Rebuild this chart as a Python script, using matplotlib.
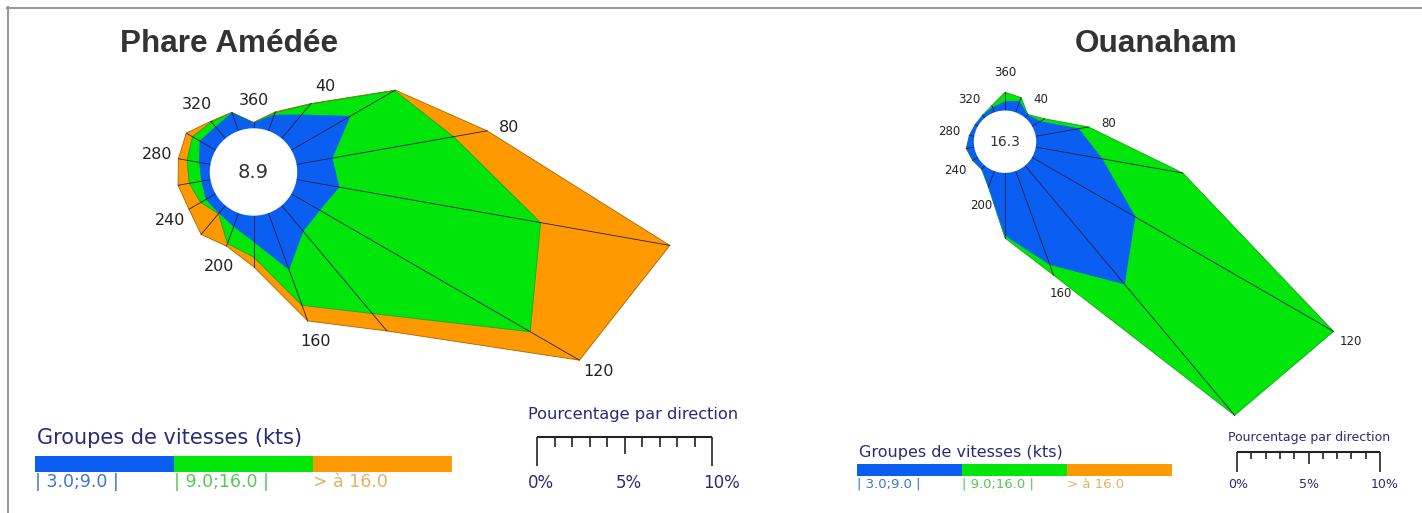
import numpy as np
import matplotlib.pyplot as plt
from matplotlib.lines import Line2D

W, H = 1422, 513

# directions (degrés, par pas de 20)
directions = list(range(0, 360, 20))
dir_labels = [40, 80, 120, 160, 200, 240, 280, 320, 360]
classes = ["| 3.0;9.0 |", "| 9.0;16.0 |", "> à 16.0"]

# Phare Amédée : pourcentage par direction et par classe de vitesse
amedee_3_9 = [0.33, 1.0, 1.8, 3.9, 2.1, 2.5, 1.9, 1.95, 3.45, 1.5, 0.84, 0.6, 0.66, 0.55, 0.67, 1.07, 0.9, 1.13]
amedee_9_16 = [0.03, 0.14, 0.8, 2.95, 7.05, 11.7, 13.9, 6.15, 2.2, 0.9, 1.06, 0.05, 0.37, 0.72, 0.73, 0.5, 0.38, 0.02]
amedee_16 = [0.02, 0.06, 0.05, 0.05, 1.95, 7.5, 3.25, 1.3, 0.95, 0.55, 0.15, 1.55, 0.77, 0.65, 0.5, 0.41, 0.05, 0.02]
amedee_calme = 8.9

# Ouanaham
ouanaham_3_9 = [0.66, 0.85, 0.3, 0.69, 3.08, 4.75, 8.36, 10.85, 7.0, 4.4, 1.22, 0.36, 0.45, 0.59, 0.38, 0.25, 0.25, 0.41]
ouanaham_9_16 = [0.66, 0.3, 0.05, 0.38, 0.72, 5.75, 16.04, 12.0, 0.8, 0.2, 0.03, 0.04, 0.03, 0.03, 0.02, 0.02, 0.05, 0.14]
ouanaham_16 = [0, 0, 0, 0, 0, 0, 0, 0, 0, 0, 0, 0, 0, 0, 0, 0, 0, 0]
ouanaham_calme = 16.3

couleurs = ["#0a5ff2", "#00e60a", "#ff9900"]
bords = ["#0a5ff2", "#10a810", "#a86400"]
couleurs_lab = ["#3f74d0", "#55c855", "#e6b060"]
bleu_texte = "#2b2a78"

fig = plt.figure(figsize=(W / 100, H / 100), dpi=100)


def px_axes(x0, y0, w, h, **kw):
    return fig.add_axes([x0 / W, 1 - (y0 + h) / H, w / W, h / H], **kw)


def ftext(x, y, s, **kw):
    fig.text(x / W, 1 - y / H, s, **kw)


def rose(cx, cy, echelle, trou_px, valeurs, calme, fs_dir, fs_calme, decal):
    rmax = 30
    R = rmax * echelle
    ax = px_axes(cx - R, cy - R, 2 * R, 2 * R, projection="polar")
    ax.set_theta_zero_location("N")
    ax.set_theta_direction(-1)
    ax.set_ylim(0, rmax)
    ax.set_axis_off()
    ax.patch.set_alpha(0)

    trou = trou_px / echelle
    theta = np.deg2rad(directions)
    cumul = np.cumsum(np.array(valeurs, dtype=float), axis=0)
    tc = np.append(theta, theta[0])

    # polygones : du total vers la classe la plus faible
    for k in [2, 1, 0]:
        if max(valeurs[k]) == 0:
            continue
        r = trou + cumul[k]
        ax.fill(tc, np.append(r, r[0]), facecolor=couleurs[k], edgecolor=bords[k], lw=0.6)

    # rayons
    for i, t in enumerate(theta):
        ax.plot([t, t], [trou, trou + cumul[2][i]], color="#202040", lw=0.6)

    # cercle des calmes
    tt = np.linspace(0, 2 * np.pi, 200)
    ax.fill(tt, np.full(200, trou), color="white", zorder=5)
    ax.text(0, 0, str(calme), ha="center", va="center", fontsize=fs_calme, color="#333333", zorder=6)

    for d in dir_labels:
        i = directions.index(d % 360)
        r = trou + cumul[2][i] + decal
        ax.text(theta[i], r, str(d), ha="center", va="center", fontsize=fs_dir, color="#222222")


def legende(x0, ytit, ybar, hbar, largeur, ylab, fs_tit, fs_lab):
    ftext(x0 + 2, ytit, "Groupes de vitesses (kts)", fontsize=fs_tit, color=bleu_texte, va="center")
    ax = px_axes(x0, ybar, largeur, hbar)
    ax.barh(0, [1, 1, 1], left=[0, 1, 2], height=1, color=couleurs, align="edge")
    ax.set_xlim(0, 3)
    ax.set_ylim(0, 1)
    ax.set_axis_off()
    for k in range(3):
        ftext(x0 + k * largeur / 3, ylab, classes[k], fontsize=fs_lab, color=couleurs_lab[k], va="center")


def echelle_pct(x0, ytit, yligne, hgrand, echelle, ylab, fs_tit, fs_lab):
    ftext(x0 - 9, ytit, "Pourcentage par direction", fontsize=fs_tit, color=bleu_texte, va="center")
    ax = px_axes(x0, yligne, 10 * echelle, hgrand)
    ax.set_xlim(0, 10)
    ax.set_ylim(-1, 0)
    ax.set_axis_off()
    graduations = np.arange(0, 11)
    longueurs = [1 if g in (0, 10) else (0.58 if g == 5 else 0.33) for g in graduations]
    ax.vlines(graduations, 0, -np.array(longueurs), color="#222222", lw=1.2, clip_on=False)
    ax.hlines(0, 0, 10, color="#222222", lw=1.5, clip_on=False)
    for g in [0, 5, 10]:
        ftext(x0 + g * echelle - 9, ylab, f"{g}%", fontsize=fs_lab, color=bleu_texte, va="center")


rose(253.5, 172, 17.5, 43, [amedee_3_9, amedee_9_16, amedee_16], amedee_calme, 11.5, 14, 1.25)
rose(1005, 141.7, 14.3, 30.5, [ouanaham_3_9, ouanaham_9_16, ouanaham_16], ouanaham_calme, 8.5, 10, 1.4)

ftext(229, 44, "Phare Amédée", fontsize=22.7, fontweight="bold", family="Liberation Sans",
      color="#333333", ha="center", va="center")
ftext(1156, 44, "Ouanaham", fontsize=22.7, fontweight="bold", family="Liberation Sans",
      color="#333333", ha="center", va="center")

legende(35, 438, 456, 16, 417, 482, 15, 12.5)
echelle_pct(537, 414, 437, 29, 17.5, 483, 11.7, 12)

legende(857, 453, 464, 12, 315, 484, 11.5, 9.5)
echelle_pct(1237, 437, 452, 20, 14.3, 484, 9, 9)

# cadre
fig.add_artist(Line2D([7 / W, 1], [1 - 7.5 / H, 1 - 7.5 / H], color="#999999", lw=1.5))
fig.add_artist(Line2D([7.5 / W, 7.5 / W], [0, 1 - 7 / H], color="#999999", lw=1.5))

fig.savefig("out.png", dpi=100)
